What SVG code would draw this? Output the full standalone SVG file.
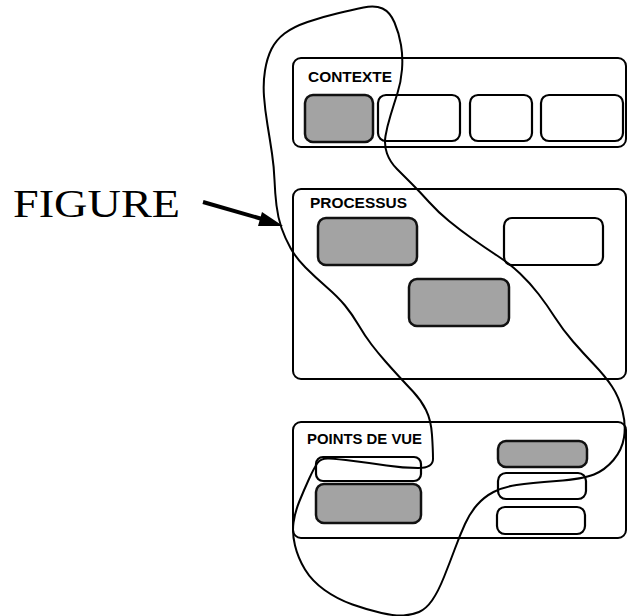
<svg xmlns="http://www.w3.org/2000/svg" width="628" height="616" viewBox="0 0 628 616">
<style>
.panel{fill:none;stroke:#000;stroke-width:2}
.box{fill:#fff;stroke:#000;stroke-width:2.2}
.shade{fill:#a3a3a3;stroke:#111;stroke-width:2.5}
.lbl{font-family:"Liberation Sans",Arial,sans-serif;font-weight:bold;font-size:15px;fill:#000}
.fig{font-family:"Liberation Serif","Times New Roman",serif;font-size:40px;fill:#000}
.outline{fill:none;stroke:#000;stroke-width:2;stroke-linejoin:round}
</style>
<rect width="628" height="616" fill="#fff"/>
<g id="contexte">
<rect class="panel" x="293" y="58" width="333" height="89" rx="8"/>
<text class="lbl" x="308" y="82" textLength="84" lengthAdjust="spacingAndGlyphs">CONTEXTE</text>
<rect class="shade" x="305" y="95" width="68" height="47" rx="8"/>
<rect class="box" x="378" y="95" width="82" height="46" rx="8"/>
<rect class="box" x="470" y="95" width="62" height="46" rx="8"/>
<rect class="box" x="541" y="95" width="82" height="46" rx="8"/>
</g>
<g id="processus">
<rect class="panel" x="293" y="189" width="333" height="190" rx="8"/>
<text class="lbl" x="310" y="208" textLength="97" lengthAdjust="spacingAndGlyphs">PROCESSUS</text>
<rect class="shade" x="318" y="218" width="99" height="47" rx="8"/>
<rect class="box" x="504" y="218" width="99" height="47" rx="8"/>
<rect class="shade" x="409" y="279" width="100" height="47" rx="8"/>
</g>
<g id="points-de-vue">
<rect class="panel" x="293" y="422" width="333" height="116" rx="8"/>
<text class="lbl" x="307" y="444" textLength="115" lengthAdjust="spacingAndGlyphs">POINTS DE VUE</text>
<rect class="box" x="316" y="457" width="105" height="24" rx="7"/>
<rect class="shade" x="316" y="484" width="105" height="39" rx="8"/>
<rect class="shade" x="498" y="441" width="89" height="26" rx="8"/>
<rect class="box" x="498" y="473" width="88" height="26" rx="8"/>
<rect class="box" x="497" y="507" width="88" height="27" rx="8"/>
</g>
<g id="figure-outline">
<path class="outline" d="M363.5,7.5 Q375,5 382.5,8.5 Q390,12 394.5,22.5 Q399,33 401,45 Q403,57 402,69.5 Q401,82 397.5,93 Q394,104 390.5,115.5 Q387,127 385.5,136 Q384,145 387,153.5 Q390,162 397,169 Q404,176 412,184 Q420,192 429,202 Q438,212 449,221 Q460,230 472,238.5 Q484,247 497,255.5 Q510,264 520,273.5 Q530,283 538.5,294 Q547,305 555,317.5 Q563,330 573,341.5 Q583,353 594,364.5 Q605,376 612,386.5 Q619,397 622.5,411 Q626,425 624,437.5 Q622,450 613.5,460 Q605,470 594,474.5 Q583,479 556.5,481 Q530,483 516.5,485 Q503,487 493.5,492 Q484,497 477,505 Q470,513 465,524 Q460,535 455,548.5 Q450,562 444,577 Q438,592 432,600.5 Q426,609 419,612 Q412,615 403.5,615.5 Q395,616 381.5,613 Q368,610 352.5,604.5 Q337,599 324.5,590 Q312,581 305,569.5 Q298,558 295,545.5 Q292,533 293.5,522.5 Q295,512 299.5,501 Q304,490 309,479 Q314,468 317.5,463 Q321,458 329,458.5 Q337,459 353.5,461 Q370,463 386.5,465.5 Q403,468 418,468 Q433,468 433,459 Q433,450 432,435 Q431,420 426,410 Q421,400 413,391.5 Q405,383 399,376.5 Q393,370 385.5,361.5 Q378,353 371.5,344.5 Q365,336 358.5,325 Q352,314 345,305.5 Q338,297 326.5,287 Q315,277 305.5,267.5 Q296,258 290.5,248 Q285,238 281.5,228 Q278,218 276.5,205.5 Q275,193 274.5,180 Q274,167 272,153.5 Q270,140 267.5,125 Q265,110 264,96.5 Q263,83 265,70.5 Q267,58 271.5,49 Q276,40 284.5,33.5 Q293,27 307.5,22 Q322,17 337,13.5 Q352,10 363.5,7.5 Z"/>
</g>
<g id="figure-label">
<text class="fig" x="13" y="217" textLength="167" lengthAdjust="spacingAndGlyphs">FIGURE</text>
</g>
<g id="connectors">
<line x1="203" y1="202" x2="262" y2="219" stroke="#000" stroke-width="4"/>
<polygon points="283,226 258,226 262,212" fill="#000"/>
</g>
</svg>
